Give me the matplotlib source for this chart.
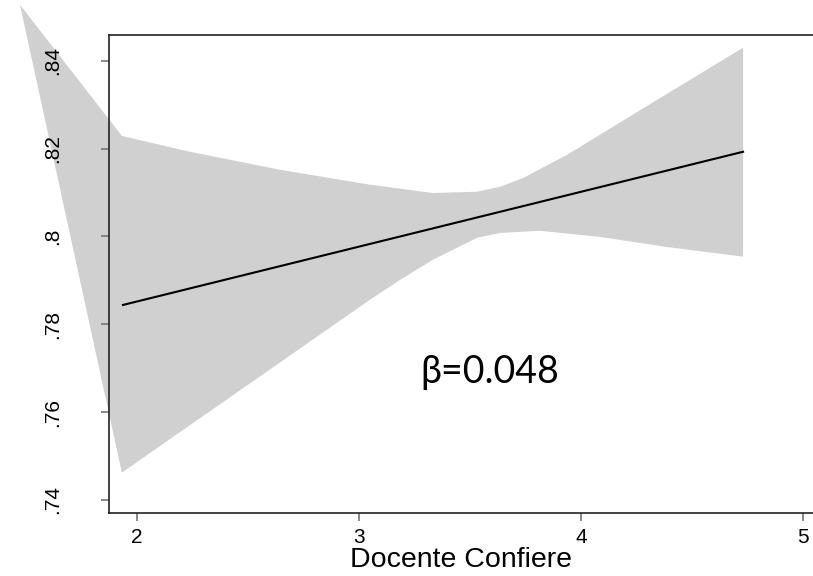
import numpy as np
import matplotlib.pyplot as plt

# fitted line
fit_x = [1.937, 4.730]
fit_y = [0.7844, 0.8193]

# confidence band, upper and lower edges
upper_x = [1.473, 1.932, 2.239, 2.644, 3.050, 3.333, 3.532, 3.635, 3.739, 3.937, 4.144, 4.342, 4.730]
upper_y = [0.8528, 0.8229, 0.8193, 0.8152, 0.8118, 0.8099, 0.8102, 0.8113, 0.8133, 0.8186, 0.8250, 0.8311, 0.8430]
lower_x = [1.473, 1.932, 3.050, 3.185, 3.333, 3.532, 3.635, 3.815, 4.086, 4.387, 4.730]
lower_y = [0.8528, 0.7462, 0.7856, 0.7901, 0.7947, 0.7997, 0.8008, 0.8013, 0.7999, 0.7976, 0.7954]

x_ticks = [2, 3, 4, 5]
y_ticks = [0.74, 0.76, 0.78, 0.80, 0.82, 0.84]
y_tick_labels = ['.74', '.76', '.78', '.8', '.82', '.84']

plt.rcParams['font.family'] = ['Liberation Sans', 'DejaVu Sans']

fig = plt.figure(figsize=(8.13, 5.76), dpi=100)
ax = fig.add_axes([109/813, 1 - 513/576, 1 - 109/813, (513 - 35)/576])

poly_x = np.concatenate([upper_x, lower_x[::-1]])
poly_y = np.concatenate([upper_y, lower_y[::-1]])
ax.fill(poly_x, poly_y, color='#d0d0d0', lw=0, clip_on=False, zorder=1)
ax.plot(fit_x, fit_y, color='black', lw=1.5, zorder=2)

ax.set_xlim(1.874, 5.045)
ax.set_ylim(0.7370, 0.8459)

ax.set_xticks(x_ticks)
ax.set_yticks(y_ticks)
ax.set_yticklabels(y_tick_labels, rotation=90, va='center')
ax.tick_params(axis='y', length=6, width=1.2, color='#777777', pad=28, labelsize=15)
ax.tick_params(axis='x', length=6, width=1.2, color='#777777', pad=5, labelsize=15)

for s in ['left', 'top', 'bottom']:
    ax.spines[s].set_linewidth(1.2)
    ax.spines[s].set_color('#222222')
    ax.spines[s].set_zorder(3)
ax.spines['right'].set_visible(False)

ax.set_xlabel('Docente Confiere', fontsize=20.5, labelpad=0)
ax.text(3.59, 0.7667, 'β=0.048', fontsize=27, family=['Lato', 'DejaVu Sans'],
        ha='center', va='baseline')

fig.savefig('out.png', dpi=100)
